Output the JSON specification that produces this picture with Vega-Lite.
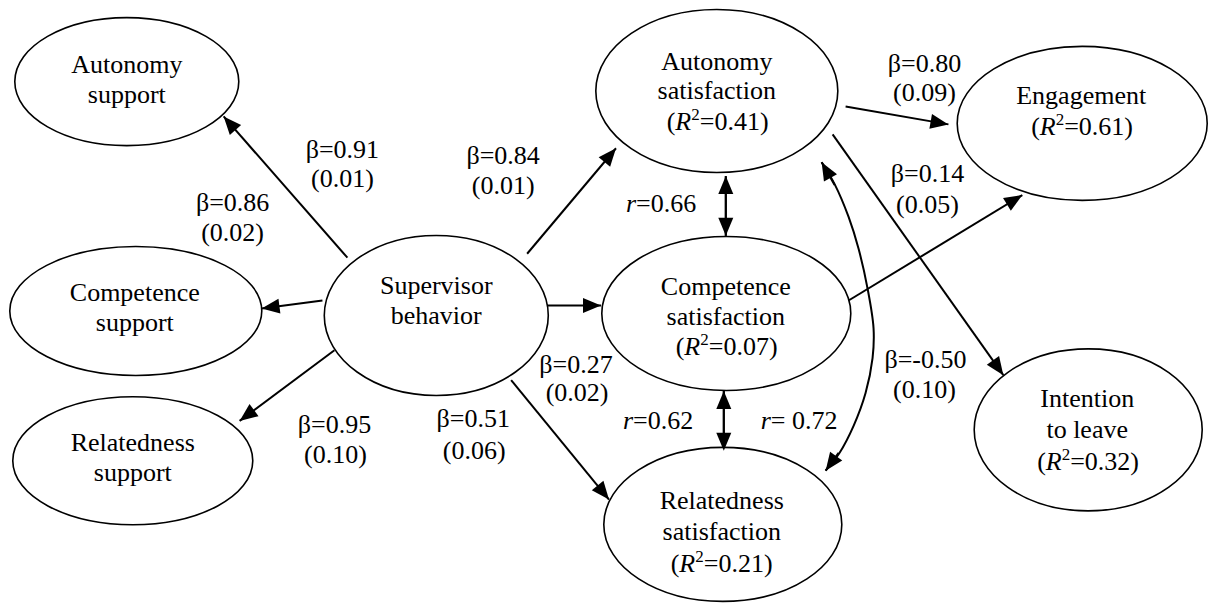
{
  "$schema": "https://vega.github.io/schema/vega-lite/v6.json",
  "width": 1211,
  "height": 605,
  "autosize": {"type": "fit", "contains": "padding"},
  "padding": 0,
  "background": "white",
  "config": {"view": {"stroke": null}},
  "datasets": {
    "nodes": [
      {"id": "AS", "x": 127, "y": 82},
      {"id": "CS", "x": 136, "y": 312.5},
      {"id": "RS", "x": 133, "y": 463},
      {"id": "SB", "x": 437, "y": 317},
      {"id": "ASat", "x": 718, "y": 91.5},
      {"id": "CSat", "x": 727.5, "y": 315},
      {"id": "RSat", "x": 724, "y": 527},
      {"id": "Eng", "x": 1084, "y": 124},
      {"id": "ITL", "x": 1090, "y": 432}
    ],
    "arrows": [
      {"x": 224, "y": 117, "fx": 348, "fy": 259},
      {"x": 262, "y": 310, "fx": 323, "fy": 302},
      {"x": 240, "y": 423, "fx": 335, "fy": 352},
      {"x": 617, "y": 149, "fx": 528, "fy": 255},
      {"x": 602, "y": 307, "fx": 543, "fy": 307},
      {"x": 610, "y": 502, "fx": 512, "fy": 382},
      {"x": 727, "y": 177, "fx": 727, "fy": 237},
      {"x": 727, "y": 237, "fx": 727, "fy": 177},
      {"x": 725, "y": 393, "fx": 725, "fy": 453},
      {"x": 725, "y": 453, "fx": 725, "fy": 393},
      {"x": 950, "y": 125, "fx": 847, "fy": 107},
      {"x": 1024, "y": 196, "fx": 850, "fy": 302},
      {"x": 1005, "y": 377, "fx": 834, "fy": 135},
      {"x": 823, "y": 163, "fx": 836, "fy": 186},
      {"x": 827, "y": 473, "fx": 840, "fy": 455}
    ],
    "curve": [
      {"i": 0, "x": 823, "y": 163},
      {"i": 1, "x": 836, "y": 185},
      {"i": 2, "x": 850, "y": 218},
      {"i": 3, "x": 860, "y": 250},
      {"i": 4, "x": 869, "y": 290},
      {"i": 5, "x": 875, "y": 330},
      {"i": 6, "x": 874, "y": 360},
      {"i": 7, "x": 867, "y": 395},
      {"i": 8, "x": 855, "y": 428},
      {"i": 9, "x": 841, "y": 455},
      {"i": 10, "x": 827, "y": 473}
    ],
    "labels": [
      {"t": "Autonomy", "x": 127, "y": 73},
      {"t": "support", "x": 127, "y": 104},
      {"t": "Competence", "x": 135, "y": 302},
      {"t": "support", "x": 135, "y": 333},
      {"t": "Relatedness", "x": 133, "y": 453},
      {"t": "support", "x": 133, "y": 483},
      {"t": "Supervisor", "x": 437, "y": 295},
      {"t": "behavior", "x": 437, "y": 326},
      {"t": "Autonomy", "x": 718, "y": 70},
      {"t": "satisfaction", "x": 718, "y": 99},
      {"t": "Competence", "x": 727, "y": 296},
      {"t": "satisfaction", "x": 727, "y": 327},
      {"t": "Relatedness", "x": 723, "y": 512},
      {"t": "satisfaction", "x": 723, "y": 543},
      {"t": "Engagement", "x": 1083, "y": 105},
      {"t": "Intention", "x": 1089, "y": 409},
      {"t": "to leave", "x": 1089, "y": 440},
      {"t": "β=0.91", "x": 343, "y": 159},
      {"t": "(0.01)", "x": 343, "y": 188},
      {"t": "β=0.86", "x": 233, "y": 212},
      {"t": "(0.02)", "x": 233, "y": 242},
      {"t": "β=0.84", "x": 504, "y": 165},
      {"t": "(0.01)", "x": 504, "y": 195},
      {"t": "β=0.95", "x": 335, "y": 435},
      {"t": "(0.10)", "x": 336, "y": 465},
      {"t": "β=0.51", "x": 474, "y": 429},
      {"t": "(0.06)", "x": 475, "y": 461},
      {"t": "β=0.27", "x": 577, "y": 375},
      {"t": "(0.02)", "x": 578, "y": 403},
      {"t": "β=0.80", "x": 926, "y": 72},
      {"t": "(0.09)", "x": 926, "y": 102},
      {"t": "β=0.14", "x": 929, "y": 183},
      {"t": "(0.05)", "x": 929, "y": 214},
      {"t": "β=-0.50", "x": 927, "y": 370},
      {"t": "(0.10)", "x": 926, "y": 400}
    ],
    "r2": [
      {"v": "=0.41)", "x": 719, "y": 131},
      {"v": "=0.07)", "x": 728, "y": 357},
      {"v": "=0.21)", "x": 723, "y": 575},
      {"v": "=0.61)", "x": 1084, "y": 136},
      {"v": "=0.32)", "x": 1090, "y": 472}
    ],
    "corr": [
      {"v": "=0.66", "x": 627, "y": 213},
      {"v": "=0.62", "x": 624, "y": 431},
      {"v": "= 0.72", "x": 762, "y": 431}
    ]
  },
  "layer": [
    {
      "data": {"name": "arrows"},
      "mark": {"type": "rule", "color": "black", "strokeWidth": 2},
      "encoding": {
        "x": {"field": "fx", "type": "quantitative", "scale": {"domain": [0, 1211], "nice": false, "zero": false}, "axis": null},
        "y": {"field": "fy", "type": "quantitative", "scale": {"domain": [0, 605], "nice": false, "zero": false, "reverse": true}, "axis": null},
        "x2": {"field": "x"},
        "y2": {"field": "y"}
      }
    },
    {
      "data": {"name": "curve"},
      "mark": {"type": "line", "color": "black", "strokeWidth": 2, "interpolate": "catmull-rom"},
      "encoding": {
        "x": {"field": "x", "type": "quantitative", "axis": null},
        "y": {"field": "y", "type": "quantitative", "axis": null},
        "order": {"field": "i", "type": "quantitative"}
      }
    },
    {
      "data": {"name": "nodes"},
      "mark": {"type": "point", "filled": true, "fill": "white", "fillOpacity": 1, "stroke": "black", "strokeWidth": 1.6, "strokeOpacity": 1, "opacity": 1, "size": 4},
      "encoding": {
        "x": {"field": "x", "type": "quantitative", "axis": null},
        "y": {"field": "y", "type": "quantitative", "axis": null},
        "shape": {
          "field": "id", "type": "nominal", "legend": null,
          "scale": {
            "domain": ["AS", "CS", "RS", "SB", "ASat", "CSat", "RSat", "Eng", "ITL"],
            "range": [
              "M112,0C112,35.35,61.86,64,0,64C-61.86,64,-112,35.35,-112,0C-112,-35.35,-61.86,-64,0,-64C61.86,-64,112,-35.35,112,0Z",
              "M126,0C126,35.62,69.59,64.5,0,64.5C-69.59,64.5,-126,35.62,-126,0C-126,-35.62,-69.59,-64.5,0,-64.5C69.59,-64.5,126,-35.62,126,0Z",
              "M120,0C120,35.35,66.28,64,0,64C-66.28,64,-120,35.35,-120,0C-120,-35.35,-66.28,-64,0,-64C66.28,-64,120,-35.35,120,0Z",
              "M112,0C112,44.18,61.86,80,0,80C-61.86,80,-112,44.18,-112,0C-112,-44.18,-61.86,-80,0,-80C61.86,-80,112,-44.18,112,0Z",
              "M121,0C121,45.01,66.83,81.5,0,81.5C-66.83,81.5,-121,45.01,-121,0C-121,-45.01,-66.83,-81.5,0,-81.5C66.83,-81.5,121,-45.01,121,0Z",
              "M124.5,0C124.5,42.53,68.76,77,0,77C-68.76,77,-124.5,42.53,-124.5,0C-124.5,-42.53,-68.76,-77,0,-77C68.76,-77,124.5,-42.53,124.5,0Z",
              "M119,0C119,42.53,65.72,77,0,77C-65.72,77,-119,42.53,-119,0C-119,-42.53,-65.72,-77,0,-77C65.72,-77,119,-42.53,119,0Z",
              "M125,0C125,42.53,69.04,77,0,77C-69.04,77,-125,42.53,-125,0C-125,-42.53,-69.04,-77,0,-77C69.04,-77,125,-42.53,125,0Z",
              "M114,0C114,44.74,62.96,81,0,81C-62.96,81,-114,44.74,-114,0C-114,-44.74,-62.96,-81,0,-81C62.96,-81,114,-44.74,114,0Z"
            ]
          }
        }
      }
    },
    {
      "data": {"name": "arrows"},
      "transform": [{"calculate": "atan2(datum.x - datum.fx, datum.fy - datum.y) * 180 / PI", "as": "ang"}],
      "mark": {"type": "point", "filled": true, "fill": "black", "fillOpacity": 1, "opacity": 1, "strokeWidth": 0, "size": 4, "shape": "M0,0L7.5,18L-7.5,18Z"},
      "encoding": {
        "x": {"field": "x", "type": "quantitative", "axis": null},
        "y": {"field": "y", "type": "quantitative", "axis": null},
        "angle": {"field": "ang", "type": "quantitative", "scale": null}
      }
    },
    {
      "data": {"name": "labels"},
      "mark": {"type": "text", "align": "center", "baseline": "alphabetic", "font": "Liberation Serif", "fontSize": 26, "color": "black"},
      "encoding": {
        "x": {"field": "x", "type": "quantitative", "axis": null},
        "y": {"field": "y", "type": "quantitative", "axis": null},
        "text": {"field": "t"}
      }
    },
    {
      "data": {"name": "r2"},
      "mark": {"type": "text", "align": "left", "baseline": "alphabetic", "dx": -51, "text": "(", "font": "Liberation Serif", "fontSize": 26, "color": "black"},
      "encoding": {
        "x": {"field": "x", "type": "quantitative", "axis": null},
        "y": {"field": "y", "type": "quantitative", "axis": null}
      }
    },
    {
      "data": {"name": "r2"},
      "mark": {"type": "text", "align": "left", "baseline": "alphabetic", "dx": -42.5, "fontStyle": "italic", "text": "R", "font": "Liberation Serif", "fontSize": 26, "color": "black"},
      "encoding": {
        "x": {"field": "x", "type": "quantitative", "axis": null},
        "y": {"field": "y", "type": "quantitative", "axis": null}
      }
    },
    {
      "data": {"name": "r2"},
      "mark": {"type": "text", "align": "left", "baseline": "alphabetic", "dx": -26.5, "dy": -10, "text": "2", "font": "Liberation Serif", "fontSize": 17, "color": "black"},
      "encoding": {
        "x": {"field": "x", "type": "quantitative", "axis": null},
        "y": {"field": "y", "type": "quantitative", "axis": null}
      }
    },
    {
      "data": {"name": "r2"},
      "mark": {"type": "text", "align": "left", "baseline": "alphabetic", "dx": -18, "font": "Liberation Serif", "fontSize": 26, "color": "black"},
      "encoding": {
        "x": {"field": "x", "type": "quantitative", "axis": null},
        "y": {"field": "y", "type": "quantitative", "axis": null},
        "text": {"field": "v"}
      }
    },
    {
      "data": {"name": "corr"},
      "mark": {"type": "text", "align": "left", "baseline": "alphabetic", "fontStyle": "italic", "text": "r", "font": "Liberation Serif", "fontSize": 26, "color": "black"},
      "encoding": {
        "x": {"field": "x", "type": "quantitative", "axis": null},
        "y": {"field": "y", "type": "quantitative", "axis": null}
      }
    },
    {
      "data": {"name": "corr"},
      "mark": {"type": "text", "align": "left", "baseline": "alphabetic", "dx": 10, "font": "Liberation Serif", "fontSize": 26, "color": "black"},
      "encoding": {
        "x": {"field": "x", "type": "quantitative", "axis": null},
        "y": {"field": "y", "type": "quantitative", "axis": null},
        "text": {"field": "v"}
      }
    }
  ]
}
